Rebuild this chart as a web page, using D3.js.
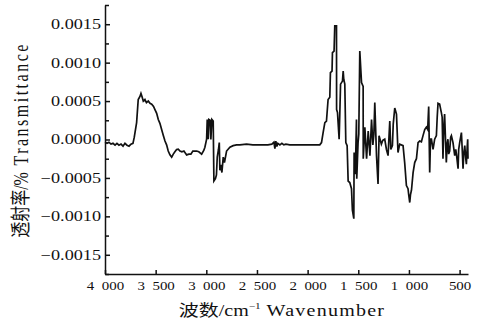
<!DOCTYPE html>
<html>
<head>
<meta charset="utf-8">
<script src="https://cdn.jsdelivr.net/npm/d3@7"></script>
<style>
  html, body { margin: 0; padding: 0; background: #fff; }
  svg text { font-family: "Liberation Serif", "Times New Roman", Times, serif; fill: #111; }
  svg text .cjk { font-family: "Noto Sans CJK SC", sans-serif; }
</style>
</head>
<body>
<div id="chart"></div>
<script>
// FTIR difference spectrum
const wavenumber = [
  4000, 3980, 3961, 3941, 3921, 3901, 3882, 3862, 3842, 3822, 3803, 3783, 3763, 3744, 3724,
  3711, 3688, 3672, 3655, 3645, 3635, 3622, 3606, 3591, 3573, 3556, 3539, 3521, 3507, 3490,
  3474, 3458, 3441, 3425, 3408, 3392, 3376, 3359, 3342, 3326, 3310, 3293, 3277, 3260, 3241,
  3221, 3194, 3172, 3152, 3133, 3096, 3074, 3046, 3024, 3014, 2997, 2991, 2981, 2975, 2962,
  2955, 2945, 2932, 2925, 2910, 2900, 2892, 2880, 2872, 2866, 2856, 2846, 2833, 2821, 2800,
  2767, 2735, 2701, 2669, 2603, 2541, 2471, 2392, 2353, 2333, 2323, 2314, 2304, 2294, 2274,
  2254, 2235, 2215, 2176, 2077, 1978, 1880, 1863, 1847, 1830, 1814, 1798, 1781, 1775, 1759,
  1755, 1739, 1732, 1715, 1714, 1705, 1689, 1682, 1675, 1656, 1649, 1643, 1633, 1623, 1610,
  1600, 1584, 1567, 1558, 1544, 1541, 1529, 1518, 1515, 1502, 1495, 1485, 1468, 1452, 1451,
  1435, 1418, 1402, 1385, 1369, 1356, 1346, 1337, 1320, 1305, 1295, 1272, 1258, 1239, 1222,
  1206, 1189, 1179, 1163, 1155, 1140, 1123, 1115, 1108, 1091, 1058, 1042, 1025, 1009, 1002,
  992, 985, 975, 959, 943, 926, 910, 894, 877, 861, 844, 828, 815, 805, 795,
  787, 778, 762, 746, 729, 721, 713, 697, 680, 672, 664, 657, 648, 631, 623,
  615, 608, 598, 588, 581, 565, 548, 538, 531, 515, 509, 499, 482, 474, 466,
  459, 449, 439, 433, 425, 420, 417
];
const transmittance = [
  -0.000035, -0.00005, -0.000035, -0.00006, -0.00005, -0.000074, -0.00005, -0.000074, -0.00006, -0.000087, -0.00005, -0.000074, -0.000087, -0.00006, -0.00005,
  0.00003, 0.00022, 0.00052, 0.00056, 0.0006, 0.00056, 0.0005, 0.00052, 0.00048, 0.0005, 0.00047, 0.00046, 0.00043, 0.00039, 0.00034,
  0.00026, 0.00021, 0.00013, 0.000056, -0.00002, -0.00007, -0.00015, -0.0002, -0.00023, -0.00019, -0.00016, -0.00013, -0.000125, -0.00015, -0.00016,
  -0.00015, -0.0002, -0.00019, -0.00019, -0.00015, -0.00015, -0.00016, -0.00019, -0.00014, -0.0001, 0.000004, 0.00026, 0.000004, 0.00026, 0.00025,
  0, 0.00026, 0.00024, -0.00054, -0.00051, -0.00046, -0.00023, -0.00013, -0.00004, -0.0004, -0.00033, -0.00043, -0.00023, -0.0003, -0.00015,
  -0.0001, -0.00008, -0.00007, -0.00007, -0.00006, -0.00007, -0.00007, -0.00007, -0.00006, -0.000035, -0.00012, -0.00002, -0.00009, -0.00005, -0.00007,
  -0.00005, -0.00007, -0.00006, -0.00007, -0.00007, -0.00007, -0.00007, -0.00004, 0.00009, 0.00022, 0.00024, 0.00052, 0.00055, 0.00087, 0.00089,
  0.00113, 0.00115, 0.00148, 0.00148, 0.00039, 0.00035, 0.000004, 0.00035, 0.00072, 0.00076, 0.00089, 0.00078, 0.00072, -0.00004, -0.00008,
  -0.00054, -0.00056, -0.00064, -0.00092, -0.00103, -0.00017, -0.00045, 0.00026, -0.00051, -0.00004, 0.00007, 0.00115, 0.00074, 0.00069, -0.00025,
  0.00016, -0.00025, 0.00011, -0.00021, 0.00026, -0.00007, 0.00007, 0.00048, -0.00021, -0.00058, 0.00005, -0.00006, -0.00001, 0.000004, -0.00013,
  -0.00021, 0.00024, -0.00013, -0.00008, 0.0002, 0.00041, 0.00033, 0.00007, -0.00017, -0.00006, -0.00008, -0.0003, -0.0006, -0.00064, -0.00072,
  -0.00082, -0.00072, -0.00066, -0.00043, -0.0003, -0.00025, -0.00004, -0.00002, -0.00003, 0.00005, 0.00013, 0.00016, 0.00013, 0.00043, -0.00043,
  0.000004, 0.000004, -0.00013, 0.000004, 0.00005, 0.00029, 0.00047, 0.00046, 0.00035, 0.00029, -0.00025, 0.00013, 0.00033, -0.0003, -0.00006,
  0.000004, -0.00019, -0.00015, 0.00003, 0.00005, -0.00004, -0.00021, -0.00013, -0.00019, -0.00038, -0.00013, -0.00004, 0.00009, -0.00013, -0.00038,
  -0.00019, -0.00008, -0.00025, -0.00032, -0.0001, 0.000004, -0.00025
];
const xTicks = [4000, 3500, 3000, 2500, 2000, 1500, 1000, 500];
const yTicks = [-0.0015, -0.001, -0.0005, 0, 0.0005, 0.001, 0.0015];
const yMinorTicks = [-0.00175, -0.00125, -0.00075, -0.00025, 0.00025, 0.00075, 0.00125, 0.00175];

const width = 486, height = 326;
const margin = { top: 5, right: 18, bottom: 52, left: 105 };
const stretch = 1.3; // the source picture is widened horizontally

const data = wavenumber.map((w, i) => ({ w: w, t: transmittance[i] }));

const svg = d3.select('#chart')
  .append('svg')
  .attr('width', width)
  .attr('height', height);

const x = d3.scaleLinear()
  .domain([4000, 417])
  .range([margin.left, width - margin.right]);

const y = d3.scaleLinear()
  .domain([-0.00175, 0.00175])
  .range([height - margin.bottom, margin.top]);

// widen text about its own anchor
function widen(sel) {
  sel.attr('transform', function () {
    const tx = +d3.select(this).attr('x') || 0;
    return `translate(${tx},0) scale(${stretch},1) translate(${-tx},0)`;
  });
}

const thousands = d => {
  const s = String(d);
  return s.length > 3 ? s.slice(0, -3) + '\u2002' + s.slice(-3) : s;
};

const gx = svg.append('g')
  .attr('transform', `translate(0,${height - margin.bottom})`)
  .call(d3.axisBottom(x).tickValues(xTicks).tickFormat(thousands)
    .tickSizeInner(-4).tickSizeOuter(0).tickPadding(8));
gx.attr('font-family', null);
gx.selectAll('text').attr('font-size', 11.5).attr('fill', '#111').call(widen);

const gy = svg.append('g')
  .attr('transform', `translate(${margin.left},0)`)
  .call(d3.axisLeft(y).tickValues(yTicks).tickFormat(d3.format('.4f'))
    .tickSizeInner(-5).tickSizeOuter(0).tickPadding(4));
gy.attr('font-family', null);
gy.selectAll('text').attr('font-size', 14).attr('fill', '#111').call(widen);

svg.append('g')
  .attr('transform', `translate(${margin.left},0)`)
  .call(d3.axisLeft(y).tickValues(yMinorTicks).tickFormat('')
    .tickSizeInner(-4).tickSizeOuter(0))
  .select('.domain').remove();

svg.selectAll('.domain, .tick line')
  .attr('stroke', '#111')
  .attr('stroke-width', 1.5);

const line = d3.line()
  .x(d => x(d.w))
  .y(d => y(d.t));

svg.append('path')
  .datum(data)
  .attr('fill', 'none')
  .attr('stroke', '#111')
  .attr('stroke-width', 1.7)
  .attr('stroke-linejoin', 'miter')
  .attr('d', line);

// axis titles
const xt = svg.append('text')
  .attr('transform', `translate(282,316) scale(${stretch - 0.05},1)`)
  .attr('text-anchor', 'middle')
  .attr('font-size', 16);
xt.append('tspan').attr('class', 'cjk').text('波数');
xt.append('tspan').text('/cm');
xt.append('tspan').attr('font-size', 9).attr('dy', -7).text('−1');
xt.append('tspan').attr('dy', 7).attr('letter-spacing', 1).text(' Wavenumber');

const yt = svg.append('text')
  .attr('transform', `translate(28,140) scale(${stretch - 0.05},1) rotate(-90)`)
  .attr('text-anchor', 'middle')
  .attr('font-size', 16);
yt.append('tspan').attr('class', 'cjk').text('透射率');
yt.append('tspan').text('/%');
yt.append('tspan').attr('letter-spacing', 2.5).text('  Transmittance');
</script>
</body>
</html>
